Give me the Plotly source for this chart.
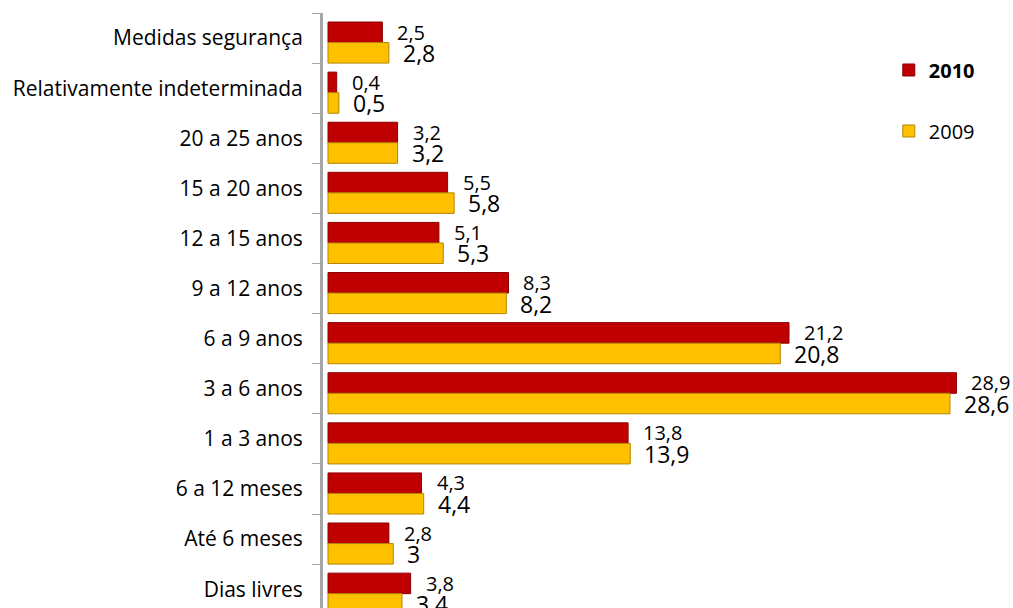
import plotly.graph_objects as go

categories = ["Dias livres", "Até 6 meses", "6 a 12 meses", "1 a 3 anos", "3 a 6 anos",
              "6 a 9 anos", "9 a 12 anos", "12 a 15 anos", "15 a 20 anos", "20 a 25 anos",
              "Relativamente indeterminada", "Medidas segurança"]
values_2010 = [3.8, 2.8, 4.3, 13.8, 28.9, 21.2, 8.3, 5.1, 5.5, 3.2, 0.4, 2.5]
values_2009 = [3.4, 3.0, 4.4, 13.9, 28.6, 20.8, 8.2, 5.3, 5.8, 3.2, 0.5, 2.8]
labels_2010 = ["3,8", "2,8", "4,3", "13,8", "28,9", "21,2", "8,3", "5,1", "5,5", "3,2", "0,4", "2,5"]
labels_2009 = ["3,4", "3", "4,4", "13,9", "28,6", "20,8", "8,2", "5,3", "5,8", "3,2", "0,5", "2,8"]

RED = "#C00000"
GOLD = "#FFC000"
FONT = "Open Sans"

fig = go.Figure()
fig.add_trace(go.Bar(
    y=categories, x=values_2010, orientation="h", name="<b>2010</b>",
    marker=dict(color=RED, line=dict(color="#8B0000", width=1)),
    width=0.41, offset=-0.09, legendgroup="a",
))
fig.add_trace(go.Bar(
    y=categories, x=values_2009, orientation="h", name="2009",
    marker=dict(color=GOLD, line=dict(color="#B38600", width=1)),
    width=0.41, offset=-0.5, legendgroup="b",
))

annotations = []
for cat, v, lab in zip(categories, values_2010, labels_2010):
    annotations.append(dict(x=v, y=cat, text=lab, showarrow=False, xanchor="left",
                            xshift=13, yshift=6, font=dict(family=FONT, size=20, color="#000000")))
for cat, v, lab in zip(categories, values_2009, labels_2009):
    annotations.append(dict(x=v, y=cat, text=lab, showarrow=False, xanchor="left",
                            xshift=12, yshift=-15, font=dict(family=FONT, size=23, color="#000000")))

fig.update_layout(
    width=1013, height=608,
    margin=dict(l=323, r=0, t=13, b=0, autoexpand=False),
    paper_bgcolor="white", plot_bgcolor="white",
    barmode="overlay",
    showlegend=True,
    legend=dict(x=0.82, y=0.937, xanchor="left", yanchor="top",
                font=dict(family=FONT, size=20, color="#000000"),
                tracegroupgap=32, bgcolor="rgba(0,0,0,0)"),
    annotations=annotations,
    xaxis=dict(range=[-0.23, 31.5], showgrid=False, zeroline=False, showticklabels=False,
               showline=False, ticks="", automargin=False),
    yaxis=dict(type="category", categoryorder="array", categoryarray=categories,
               range=[-0.376, 11.5], showgrid=False, zeroline=False, automargin=False,
               showline=True, linecolor="#A6A6A6", linewidth=3,
               ticks="outside", tickson="boundaries", ticklen=8, tickcolor="#A6A6A6", tickwidth=1,
               ticklabelstandoff=13,
               tickfont=dict(family=FONT, size=21, color="#000000")),
)

fig.write_html("out.html", config={"displayModeBar": False},
               post_script="document.body.style.margin='0px';document.body.style.overflow='hidden';")
